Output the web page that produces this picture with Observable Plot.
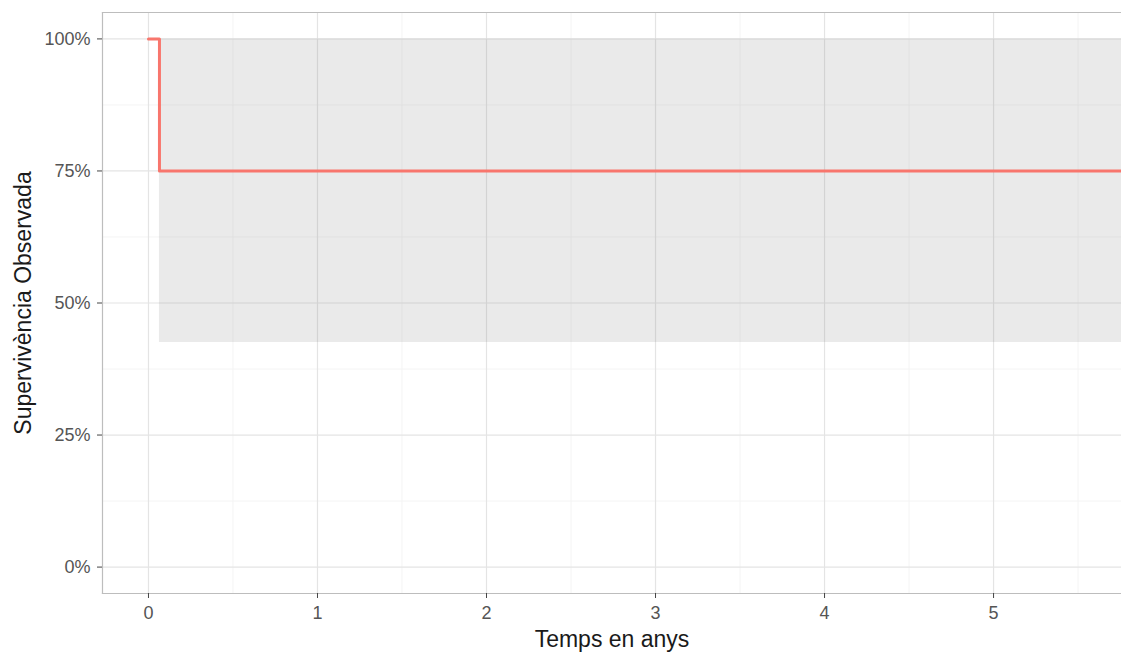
<!DOCTYPE html>
<html>
<head>
<meta charset="utf-8">
<script src="https://cdn.jsdelivr.net/npm/d3@7"></script>
<script src="https://cdn.jsdelivr.net/npm/@observablehq/plot@0.6"></script>
<style>
  html, body { margin: 0; padding: 0; background: #fff; }
  #chart svg { display: block; font-family: "Liberation Sans", Arial, sans-serif; }
</style>
</head>
<body>
<div id="chart"></div>
<script>
// Kaplan–Meier estimate (years, survival) with its confidence band
const times = [0, 0.065, 5.8];
const survival = [1, 0.75, 0.75];
const lower = [1, 0.425, 0.425];
const upper = [1, 1, 1];

const xMajor = [0, 1, 2, 3, 4, 5];
const xMinor = [0.5, 1.5, 2.5, 3.5, 4.5, 5.5];
const yMajor = [0, 0.25, 0.5, 0.75, 1];
const yMinor = [0.125, 0.375, 0.625, 0.875];

const km = times.map((t, i) => ({time: t, surv: survival[i], lo: lower[i], hi: upper[i]}));

const xDomain = [-0.272, 5.757];
const yDomain = [-0.05, 1.05];

const chart = Plot.plot({
  width: 1121,
  height: 655,
  marginLeft: 102,
  marginRight: 0,
  marginTop: 12,
  marginBottom: 62,
  x: {domain: xDomain},
  y: {domain: yDomain},
  style: {fontFamily: "'Liberation Sans', Arial, sans-serif", background: "#fff"},
  marks: [
    // grid
    Plot.ruleX(xMinor, {stroke: "#F4F4F4", strokeWidth: 1}),
    Plot.ruleY(yMinor, {stroke: "#F4F4F4", strokeWidth: 1}),
    Plot.ruleX(xMajor, {stroke: "#E4E4E4", strokeWidth: 1.2}),
    Plot.ruleY(yMajor, {stroke: "#E4E4E4", strokeWidth: 1.2}),
    // confidence band
    Plot.areaY(km, {x: "time", y1: "lo", y2: "hi", curve: "step-after", fill: "#808080", fillOpacity: 0.17, clip: true}),
    // survival curve
    Plot.line(km, {x: "time", y: "surv", curve: "step-after", stroke: "#F8766D", strokeWidth: 3, clip: true}),
    // panel border (left, top, bottom)
    Plot.frame({anchor: "left", stroke: "#BDBDBD", strokeWidth: 1.2}),
    Plot.frame({anchor: "top", stroke: "#BDBDBD", strokeWidth: 1.2}),
    Plot.frame({anchor: "bottom", stroke: "#BDBDBD", strokeWidth: 1.2}),
    // axes
    Plot.axisY(yMajor, {tickFormat: d3.format(".0%"), tickSize: 5, tickPadding: 7, fontSize: 18, color: "#555", stroke: "#444", label: null}),
    Plot.axisX(xMajor, {tickFormat: d3.format("d"), tickSize: 5, tickPadding: 8, fontSize: 18, color: "#555", stroke: "#444", label: null}),
    // axis titles
    Plot.text(["Temps en anys"], {frameAnchor: "bottom", lineAnchor: "middle", textAnchor: "middle", dy: 46, fontSize: 23, fill: "#1a1a1a"}),
    Plot.text(["Supervivència Observada"], {frameAnchor: "left", lineAnchor: "middle", textAnchor: "middle", dx: -79, rotate: -90, fontSize: 23, fill: "#1a1a1a"})
  ]
});

document.getElementById("chart").appendChild(chart);
</script>
</body>
</html>
